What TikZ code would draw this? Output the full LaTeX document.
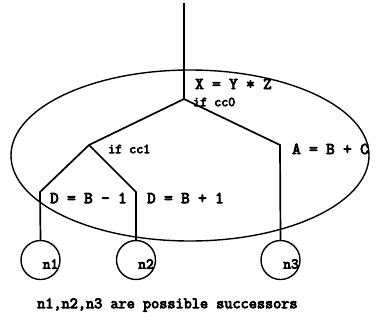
\documentclass[tikz,border=0pt]{standalone}
\usepackage{fontspec}
\newfontfamily\labfont{Latin Modern Mono}[FakeBold=5]
\begin{document}
\begin{tikzpicture}[x=1pt,y=-1pt,
  wire/.style={line width=1.7pt,line join=miter},
  thinwire/.style={line width=1.1pt},
  succ/.style={circle,draw,line width=1.4pt,minimum size=39pt,inner sep=0pt},
  biglab/.style={anchor=west,inner sep=0pt,font=\labfont\fontsize{16.5}{16.5}\selectfont},
  smalllab/.style={anchor=west,inner sep=0pt,font=\labfont\fontsize{13.6}{13.6}\selectfont},
  nlab/.style={inner sep=0pt,font=\labfont\fontsize{15}{15}\selectfont},
  caplab/.style={anchor=west,inner sep=0pt,font=\labfont\fontsize{15.8}{15.8}\selectfont}]
\useasboundingbox (0,0) rectangle (380,322);
% block ellipse
\draw[line width=1.4pt] (190,155.5) ellipse [x radius=179pt, y radius=85.5pt];
% points
\coordinate (top) at (184,3);
\coordinate (b0) at (184,99);
\coordinate (b1) at (89,145);
\coordinate (r0) at (280,145);
\coordinate (k1) at (40,192);
\coordinate (k2) at (136,192);
% successors
\node[succ] (n1) at (40.5,260) {};
\node[succ] (n2) at (136,260) {};
\node[succ] (n3) at (280.5,260) {};
% connectors
\draw[thinwire] (top) -- (b0);
\draw[wire] (b0) -- (b1) -- (k1) -- (n1.north);
\draw[wire] (b1) -- (k2) -- (n2.north);
\draw[wire] (b0) -- (r0) -- (n3.north);
% labels
\node[biglab] (l0) at (195,84) {X = Y * Z};
\node[smalllab] (l1) at (193,102) {if cc0};
\node[smalllab] (l2) at (108,149) {if cc1};
\node[biglab] (l3) at (292,149) {A = B + C};
\node[biglab] (l4) at (50,198) {D = B - 1};
\node[biglab] (l5) at (147,198) {D = B + 1};
\node[nlab] (t1) at (50.5,264) {n1};
\node[nlab] (t2) at (146,264) {n2};
\node[nlab] (t3) at (291,264) {n3};
\node[caplab] (cap) at (37,305) {n1,n2,n3 are possible successors};
\end{tikzpicture}
\end{document}
